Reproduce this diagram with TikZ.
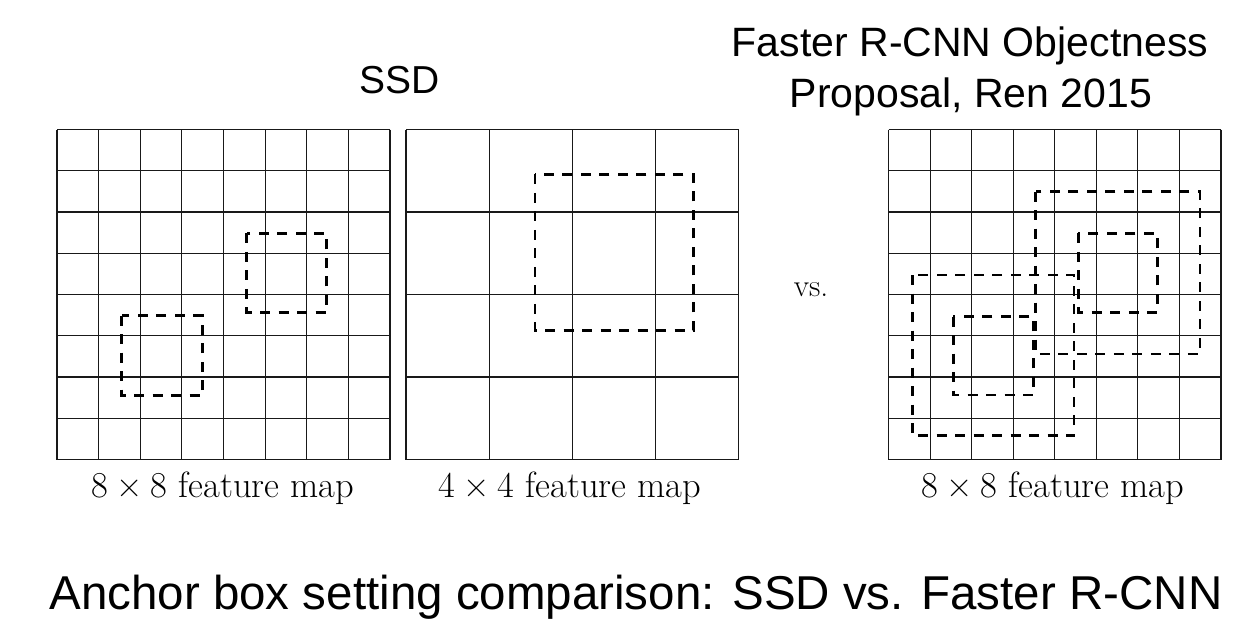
\documentclass[tikz,border=0pt]{standalone}
\usepackage{fontspec}
\newfontfamily\arialf{Liberation Sans}
\newcommand{\mytimes}{\hspace{0.222em}×\hspace{0.222em}}
\begin{document}
\begin{tikzpicture}[x=1pt,y=-1pt,
  gridline/.style={line width=1.1pt, black!90},
  anchorbox/.style={line width=2.6pt, dash pattern=on 10pt off 8.5pt, black},
  titletext/.style={font=\arialf\fontsize{41}{50}\selectfont, anchor=base, inner sep=0pt},
  lbl/.style={font=\fontsize{36.5}{42}\selectfont, anchor=base, inner sep=0pt}]
\useasboundingbox (0,0) rectangle (1242,634);
\fill[white] (0,0) rectangle (1242,634);

% grid 1 (8x8)
\foreach \i in {0,...,8} {
  \draw[gridline] ({57+\i*333/8},129.5) -- ({57+\i*333/8},459.5);
  \draw[gridline] (57,{129.5+\i*330/8}) -- (390,{129.5+\i*330/8});
}
% grid 2 (4x4)
\foreach \i in {0,...,4} {
  \draw[gridline] ({406+\i*332.5/4},129.5) -- ({406+\i*332.5/4},459.5);
  \draw[gridline] (406,{129.5+\i*330/4}) -- (738.5,{129.5+\i*330/4});
}
% grid 3 (8x8)
\foreach \i in {0,...,8} {
  \draw[gridline] ({888.5+\i*332.5/8},129.5) -- ({888.5+\i*332.5/8},459.5);
  \draw[gridline] (888.5,{129.5+\i*330/8}) -- (1221,{129.5+\i*330/8});
}

% anchor boxes
\draw[anchorbox] (246.7,233.3) rectangle (326.7,312.3);
\draw[anchorbox] (121.7,315.7) rectangle (202.7,395.7);
\draw[anchorbox] (535,174.3) rectangle (693.3,330.7);
\draw[anchorbox] (1035.7,191.7) rectangle (1200,354);
\draw[anchorbox] (1078.3,233.3) rectangle (1157.3,312.3);
\draw[anchorbox] (912.3,275) rectangle (1074,435.7);
\draw[anchorbox] (953.3,316.7) rectangle (1033.3,395);

% texts
\node[titletext, font=\arialf\fontsize{39}{46}\selectfont] (ssd) at (400,93) {SSD};
\node[titletext] (frcnn1) at (970,57) {Faster R-CNN Objectness};
\node[titletext] (frcnn2) at (971,107) {Proposal, Ren 2015};
\node[lbl] (lab1) at (223,497) {8\mytimes 8 feature map};
\node[lbl] (lab2) at (570,497) {4\mytimes 4 feature map};
\node[lbl] (lab3) at (1053,497) {8\mytimes 8 feature map};
\node[lbl, font=\fontsize{31.5}{36}\selectfont] (vs) at (811,296) {vs.};
\node[titletext, font=\arialf\fontsize{47.5}{56}\selectfont] (caption) at (636,609) {Anchor box setting comparison: SSD vs. Faster R-CNN};
\end{tikzpicture}
\end{document}
